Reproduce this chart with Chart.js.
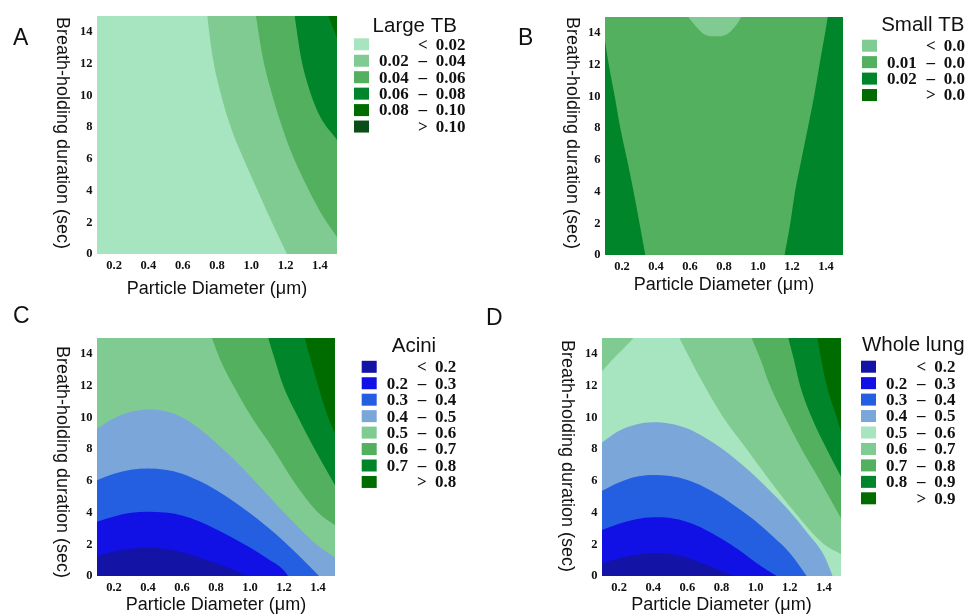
<!DOCTYPE html>
<html>
<head>
<meta charset="utf-8">
<script src="https://cdn.jsdelivr.net/npm/chart.js@4.4.1/dist/chart.umd.min.js"></script>
<style>
  html, body { margin: 0; padding: 0; background: #fff; }
  body { width: 965px; height: 616px; position: relative; overflow: hidden; }
  canvas { position: absolute; }
</style>
</head>
<body>
<canvas id="panelA" width="480" height="300" style="left:0;top:0"></canvas>
<canvas id="panelB" width="485" height="300" style="left:480px;top:0"></canvas>
<canvas id="panelC" width="480" height="316" style="left:0;top:300px"></canvas>
<canvas id="panelD" width="485" height="316" style="left:480px;top:300px"></canvas>
<script>
// axis ticks
const diameterTicks = [0.2, 0.4, 0.6, 0.8, 1.0, 1.2, 1.4];
const durationTicks = [0, 2, 4, 6, 8, 10, 12, 14];

// contour lines: [particle diameter (um), breath-holding (s)]
// A - large TB
const largeTb002 = [[0.743, 15], [0.775, 12.4], [0.82, 10.2], [0.88, 8], [0.955, 6], [1.037, 4], [1.12, 2], [1.208, 0], [1.5, -6.5]];
const largeTb004 = [[1.027, 15], [1.065, 12.5], [1.11, 10.5], [1.165, 8.5], [1.23, 6.5], [1.3, 4.8], [1.4, 2.7], [1.5, 1.05]];
const largeTb006 = [[1.253, 15], [1.288, 12.5], [1.335, 10.5], [1.4, 8.7], [1.5, 7.2]];
const largeTb008 = [[1.449, 15], [1.5, 13.6]];
const largeTbBreaks = ['0.02', '0.04', '0.06', '0.08', '0.10'];

// B - small TB
const smallTb001 = [[0.59, 15], [0.635, 14.4], [0.685, 13.9], [0.75, 13.78], [0.815, 13.9], [0.865, 14.4], [0.902, 15]];
const smallTb002Left = [[0.1, 13.5], [0.122, 12], [0.157, 10], [0.19, 8], [0.23, 6], [0.268, 4], [0.303, 2], [0.337, 0]];
const smallTb002Right = [[1.156, 0], [1.19, 2], [1.218, 4], [1.255, 6], [1.293, 8], [1.33, 10], [1.362, 12], [1.41, 15], [1.5, 22]];
const smallTbBreaks = ['0.01', '0.02', '0.03'];

// C - acini
const acini02 = [[0.1, 1.26], [0.2, 1.55], [0.3, 1.72], [0.4, 1.78], [0.5, 1.72], [0.6, 1.5], [0.7, 1.17], [0.8, 0.8], [0.9, 0.4], [0.98, 0]];
const acini03 = [[0.1, 3.42], [0.2, 3.75], [0.3, 3.98], [0.4, 4.05], [0.5, 4.0], [0.6, 3.82], [0.7, 3.45], [0.8, 2.95], [0.9, 2.4], [1.0, 1.8], [1.1, 1.12], [1.2, 0.35], [1.224, 0]];
const acini04 = [[0.1, 6.04], [0.2, 6.45], [0.3, 6.7], [0.4, 6.77], [0.5, 6.7], [0.6, 6.45], [0.7, 6.0], [0.8, 5.42], [0.9, 4.72], [1.0, 3.95], [1.1, 3.1], [1.2, 2.18], [1.3, 1.15], [1.406, 0]];
const acini05 = [[0.1, 9.29], [0.2, 9.95], [0.3, 10.35], [0.4, 10.5], [0.5, 10.4], [0.6, 10.0], [0.7, 9.3], [0.8, 8.4], [0.9, 7.4], [1.0, 6.3], [1.1, 5.15], [1.2, 4.0], [1.3, 2.9], [1.4, 1.9], [1.5, 1.17]];
const acini06 = [[0.776, 15], [0.83, 13.5], [0.902, 12], [1.01, 10], [1.137, 8], [1.254, 6], [1.4, 4], [1.5, 3.2]];
const acini07 = [[1.107, 15], [1.15, 13.5], [1.195, 12], [1.283, 10], [1.38, 8], [1.5, 5.72]];
const acini08 = [[1.322, 15], [1.36, 13.5], [1.4, 12], [1.459, 10], [1.5, 9.0]];
const aciniBreaks = ['0.2', '0.3', '0.4', '0.5', '0.6', '0.7', '0.8'];

// D - whole lung
const lung02 = [[0.1, 0.8], [0.2, 1.12], [0.3, 1.33], [0.4, 1.43], [0.5, 1.38], [0.6, 1.15], [0.7, 0.75], [0.8, 0.32], [0.87, 0]];
const lung03 = [[0.1, 2.9], [0.2, 3.3], [0.3, 3.58], [0.4, 3.7], [0.5, 3.65], [0.6, 3.4], [0.7, 2.95], [0.8, 2.35], [0.9, 1.65], [1.0, 0.85], [1.123, 0]];
const lung04 = [[0.1, 5.38], [0.2, 5.9], [0.3, 6.25], [0.4, 6.37], [0.5, 6.3], [0.6, 6.05], [0.7, 5.6], [0.8, 5.0], [0.9, 4.25], [1.0, 3.45], [1.1, 2.5], [1.2, 1.45], [1.299, 0]];
const lung05 = [[0.1, 8.41], [0.2, 9.15], [0.3, 9.55], [0.4, 9.69], [0.5, 9.6], [0.6, 9.3], [0.7, 8.75], [0.8, 8.05], [0.9, 7.2], [1.0, 6.26], [1.1, 5.2], [1.2, 4.06], [1.3, 2.75], [1.4, 1.3], [1.451, 0]];
const lung06Left = [[0.1, 12.9], [0.15, 13.5], [0.2, 14.05], [0.25, 14.6], [0.284, 15]];
const lung06Right = [[0.553, 15], [0.62, 13.6], [0.684, 12.3], [0.81, 10], [0.947, 8], [1.084, 6], [1.23, 4], [1.4, 2], [1.5, 1.39]];
const lung07 = [[0.977, 15], [1.03, 13.6], [1.084, 12], [1.172, 10], [1.269, 8], [1.377, 6], [1.5, 3.64]];
const lung08 = [[1.191, 15], [1.225, 13.6], [1.26, 12], [1.328, 10], [1.416, 8], [1.5, 6.26]];
const lung09 = [[1.361, 15], [1.385, 13.6], [1.416, 12], [1.474, 10], [1.5, 9.1]];
const lungBreaks = ['0.2', '0.3', '0.4', '0.5', '0.6', '0.7', '0.8', '0.9'];

// palettes, one colour per legend row
const largeTbColors = ['#a7e4c0', '#80cb91', '#52b05e', '#00852a', '#006c00', '#0b4d16'];
const smallTbColors = ['#80cb91', '#52b05e', '#00852a', '#006c00'];
const aciniColors = ['#1313a5', '#1111e6', '#235fe0', '#7aa6da', '#80cb91', '#52b05e', '#00852a', '#006c00'];
const lungColors = ['#1313a5', '#1111e6', '#235fe0', '#7aa6da', '#a7e4c0', '#80cb91', '#52b05e', '#00852a', '#006c00'];

const SANS = '"Liberation Sans", Arial, sans-serif';
const SERIF = '"Liberation Serif", "Times New Roman", serif';
const INK = '#111';

function legendRows(breaks) {
  const rows = [{lo: '', sym: '<', hi: breaks[0]}];
  for (let i = 0; i < breaks.length - 1; i++) rows.push({lo: breaks[i], sym: '\u2013', hi: breaks[i + 1]});
  rows.push({lo: '', sym: '>', hi: breaks[breaks.length - 1]});
  return rows;
}

function makePanel(id, p) {
  const decor = {
    id: 'decor',
    beforeDatasetsDraw(chart) {
      const {ctx, chartArea: a} = chart;
      ctx.save();
      ctx.fillStyle = p.colors[p.base];
      ctx.fillRect(a.left, a.top, a.right - a.left, a.bottom - a.top);
      ctx.restore();
    },
    afterDraw(chart) {
      const ctx = chart.ctx;
      ctx.save();
      ctx.fillStyle = INK;
      ctx.font = '23px ' + SANS;
      ctx.textAlign = 'left';
      ctx.textBaseline = 'alphabetic';
      ctx.fillText(p.letter, p.letterX, p.letterY);

      // y axis title reads top to bottom
      ctx.save();
      ctx.translate(p.yTitleX, p.yTitleY);
      ctx.rotate(Math.PI / 2);
      ctx.font = '18px ' + SANS;
      ctx.textAlign = 'center';
      ctx.textBaseline = 'middle';
      ctx.fillText('Breath-holding duration (sec)', 0, 0);
      ctx.restore();

      // legend
      const rows = legendRows(p.breaks);
      const L = p.legX;
      ctx.font = 'bold 17px ' + SERIF;
      const numW = ctx.measureText(p.breaks[0]).width;
      const symX = L + 25 + numW + 14;
      rows.forEach((r, i) => {
        const cy = p.legY + i * 16.45;
        ctx.fillStyle = p.colors[i];
        ctx.fillRect(L, cy - 6, 15, 12);
        ctx.fillStyle = INK;
        ctx.textBaseline = 'middle';
        ctx.textAlign = 'left';
        if (r.lo) ctx.fillText(r.lo, L + 25, cy + 1);
        ctx.textAlign = 'center';
        ctx.fillText(r.sym, symX, cy + 1);
        ctx.textAlign = 'left';
        ctx.fillText(r.hi, symX + 13, cy + 1);
      });
      ctx.font = '20.5px ' + SANS;
      ctx.textAlign = 'center';
      ctx.textBaseline = 'alphabetic';
      ctx.fillText(p.name, (L + symX + 13 + numW) / 2 + 5, p.legTitleY);
      ctx.restore();
    }
  };

  return new Chart(document.getElementById(id), {
    type: 'line',
    data: {
      datasets: p.bands.map((b, i) => ({
        data: b.line.map(([x, y]) => ({x, y})),
        fill: b.fill,
        backgroundColor: p.colors[b.color],
        borderColor: 'transparent',
        borderWidth: 0,
        pointRadius: 0,
        cubicInterpolationMode: 'monotone',
        order: -i
      }))
    },
    options: {
      responsive: false,
      animation: false,
      events: [],
      layout: {padding: {left: 0, top: p.padTop, right: p.padRight, bottom: 0}},
      plugins: {legend: {display: false}, tooltip: {enabled: false}},
      scales: {
        x: {
          type: 'linear', min: 0.1, max: 1.5,
          border: {display: false},
          grid: {display: false, drawTicks: false},
          afterBuildTicks: s => { s.ticks = diameterTicks.map(v => ({value: v})); },
          afterFit: s => { s.height = p.xh; },
          ticks: {padding: 4, color: INK, font: {family: SERIF, size: 12.5, weight: 'bold'},
                  maxRotation: 0, autoSkip: false, callback: v => Number(v).toFixed(1)},
          title: {display: true, text: 'Particle Diameter (\u03bcm)', color: INK,
                  font: {family: SANS, size: 18}, padding: {top: 0, bottom: p.xTitlePad}}
        },
        y: {
          type: 'linear', min: 0, max: 15,
          border: {display: false},
          grid: {display: false, drawTicks: false},
          afterBuildTicks: s => { s.ticks = durationTicks.map(v => ({value: v})); },
          afterFit: s => { s.width = p.yw; },
          ticks: {padding: 4.5, color: INK, font: {family: SERIF, size: 12.5, weight: 'bold'},
                  autoSkip: false, callback: v => String(v)}
        }
      }
    },
    plugins: [decor]
  });
}

makePanel('panelA', {
  name: 'Large TB', letter: 'A', letterX: 13, letterY: 45,
  yw: 97, xh: 46, padTop: 16, padRight: 143, xTitlePad: 0.4,
  yTitleX: 61.7, yTitleY: 133,
  legX: 354, legY: 44.3, legTitleY: 31.5,
  breaks: largeTbBreaks, colors: largeTbColors, base: 0,
  bands: [
    {line: largeTb002, fill: 'end', color: 1},
    {line: largeTb004, fill: 'end', color: 2},
    {line: largeTb006, fill: 'end', color: 3},
    {line: largeTb008, fill: 'end', color: 4}
  ]
});

makePanel('panelB', {
  name: 'Small TB', letter: 'B', letterX: 38, letterY: 45,
  yw: 125, xh: 45, padTop: 17, padRight: 122, xTitlePad: 4.4,
  yTitleX: 91.7, yTitleY: 133,
  legX: 382, legY: 45.7, legTitleY: 30.7,
  breaks: smallTbBreaks, colors: smallTbColors, base: 1,
  bands: [
    {line: smallTb001, fill: 'end', color: 0},
    {line: smallTb002Left, fill: 'start', color: 2},
    {line: smallTb002Right, fill: 'start', color: 2}
  ]
});

makePanel('panelC', {
  name: 'Acini', letter: 'C', letterX: 13, letterY: 23,
  yw: 97, xh: 40, padTop: 38, padRight: 145, xTitlePad: 0,
  yTitleX: 61.7, yTitleY: 162,
  legX: 361.7, legY: 66.8, legTitleY: 51.7,
  breaks: aciniBreaks, colors: aciniColors, base: 4,
  bands: [
    {line: acini05, fill: 'start', color: 3},
    {line: acini04, fill: 'start', color: 2},
    {line: acini03, fill: 'start', color: 1},
    {line: acini02, fill: 'start', color: 0},
    {line: acini06, fill: 'end', color: 5},
    {line: acini07, fill: 'end', color: 6},
    {line: acini08, fill: 'end', color: 7}
  ]
});

makePanel('panelD', {
  name: 'Whole lung', letter: 'D', letterX: 6, letterY: 25,
  yw: 122, xh: 40, padTop: 38, padRight: 124, xTitlePad: 0,
  yTitleX: 87.2, yTitleY: 156,
  legX: 381, legY: 66.7, legTitleY: 51,
  breaks: lungBreaks, colors: lungColors, base: 4,
  bands: [
    {line: lung05, fill: 'start', color: 3},
    {line: lung04, fill: 'start', color: 2},
    {line: lung03, fill: 'start', color: 1},
    {line: lung02, fill: 'start', color: 0},
    {line: lung06Left, fill: 'end', color: 5},
    {line: lung06Right, fill: 'end', color: 5},
    {line: lung07, fill: 'end', color: 6},
    {line: lung08, fill: 'end', color: 7},
    {line: lung09, fill: 'end', color: 8}
  ]
});
</script>
</body>
</html>
